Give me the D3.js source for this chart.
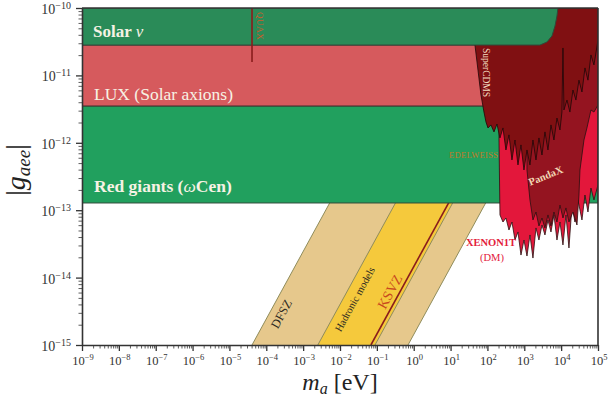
<!DOCTYPE html>
<html><head><meta charset="utf-8">
<script src="https://cdn.jsdelivr.net/npm/d3@7"></script>
<style>
body{margin:0;background:#fff}
svg{display:block}
text{font-family:"Liberation Serif","Times New Roman",serif}
</style>
</head><body>
<svg id="c" width="608" height="400"></svg>
<script>
// ---------- data ----------
const xTickExps = [-9,-8,-7,-6,-5,-4,-3,-2,-1,0,1,2,3,4,5];
const yTickExps = [-15,-14,-13,-12,-11,-10];
const massDomain = [1e-9, 1e5];
const couplingDomain = [1e-15, 1e-10];

// horizontal bounds (|g_aee|)
const solarNuBound = 2.82e-11;
const luxBound = 3.52e-12;
const redGiantBound = 1.28e-13;
// Solar nu bound weakening at high mass [m (eV), g]
const solarNuEdge = [[8200,1e-10],[7700,7.6e-11],[6800,5.4e-11],[5640,3.85e-11],[4120,3.13e-11],[2663,2.82e-11]];
// QUAX
const quaxMass = 4.1e-5;
const quaxRange = [1.58e-11, 1e-10];

// model band edges [m, g]
const dfszLow     = [[4.1e-5,1e-15],[4.1e-2,1e-12]];
const hadronicLow = [[2.5e-3,1e-15],[2.5,1e-12]];
const ksvzLine    = [[0.069,1e-15],[69,1e-12]];
const hadronicHigh= [[0.089,1e-15],[89,1e-12]];
const modelHigh   = [[0.70,1e-15],[700,1e-12]];

// direct detection exclusion regions [m (eV), g]
const superCDMS = [[38.1,1e-10],[45.9,2.82e-11],[55.4,1.2e-11],[66.8,5.12e-12],[80.5,2.86e-12],[91.2,2.04e-12],
 [103.5,1.66e-12],[124.7,1.84e-12],[150.6,1.45e-12],[181.6,1.9e-12],[218.8,1.18e-12],[264,1.66e-12],[318,7.82e-13],
 [384,1.31e-12],[463,5.56e-13],[559,1.1e-12],[674,4.69e-13],[813,9.3e-13],[980,3.95e-13],[1183,7.82e-13],
 [1426,4.69e-13],[1719,1.1e-12],[2075,5.56e-13],[2500,1.18e-12],[3020,6.59e-13],[3640,1.45e-12],[4390,7.82e-13],
 [5300,1.84e-12],[6380,1.1e-12],[7700,2.33e-12],[9290,1.55e-12],[1.05e4,2.86e-12],[1.12e4,2.55e-11],[1.19e4,3.07e-12],
 [1.44e4,4.31e-12],[1.73e4,2.86e-12],[2.09e4,6.07e-12],[2.52e4,4.31e-12],[3.04e4,8.5e-12],[3.67e4,5.67e-12],
 [4.43e4,1.29e-11],[5.34e4,8.5e-12],[6.44e4,2.01e-11],[7.77e4,1.43e-11],[1e5,3.35e-11],[1e5,1e-10]];

const pandaX = [[674,1e-10],[1e5,1e-10],[1e5,3.64e-12],[7.77e4,2.86e-12],[6.44e4,3.07e-12],[5.01e4,1.66e-12],
 [4.16e4,1.1e-12],[3.67e4,6.59e-13],[3.24e4,3.95e-13],[3.04e4,1.68e-13],[2.69e4,6.03e-14],[2.09e4,9.4e-14],
 [1.63e4,6.68e-14],[1.35e4,1.08e-13],[1.12e4,7.66e-14],[9290,1.19e-13],[7700,6.68e-14],[6380,9.4e-14],
 [5300,5.83e-14],[4390,8.5e-14],[3640,5.45e-14],[3020,7.66e-14],[2500,5.83e-14],[2075,9.4e-14],[1719,7.16e-14],
 [1426,1.42e-13],[1183,3.95e-13],[1183,1.1e-12],[980,1.55e-12],[813,2.04e-12]];

const xenon1T = [[206,1e-10],[1e5,1e-10],[1e5,2.37e-13],[7.77e4,1.42e-13],[6.44e4,2.13e-13],[5.34e4,9.4e-14],
 [4.43e4,1.68e-13],[3.67e4,7.16e-14],[2.86e4,1.42e-13],[2.37e4,6.68e-14],[1.97e4,1.19e-13],[1.63e4,2.75e-14],
 [1.35e4,8.5e-14],[1.12e4,3.05e-14],[9290,6.68e-14],[7700,3.61e-14],[6380,8.5e-14],[5300,4.75e-14],[4390,7.16e-14],
 [3640,4.29e-14],[3020,6.03e-14],[2500,3.61e-14],[2075,5.45e-14],[1719,1.95e-14],[1426,4.29e-14],[1183,2.09e-14],
 [980,3.61e-14],[813,2.16e-14],[674,4.75e-14],[559,3.61e-14],[463,6.68e-14],[384,5.08e-14],[318,7.66e-14],
 [264,6.68e-14],[219,8.5e-14],[206,1.1e-12]];

// ---------- chart ----------
const svg = d3.select("#c");
const x = d3.scaleLog().domain(massDomain).range([82,598]);
const y = d3.scaleLog().domain(couplingDomain).range([345,8]);
const line = d3.line().x(d=>x(d[0])).y(d=>y(d[1]));
const poly = pts => line(pts) + "Z";

svg.append("defs").append("clipPath").attr("id","plot")
  .append("rect").attr("x",x(massDomain[0])).attr("y",y(couplingDomain[1]))
  .attr("width",x(massDomain[1])-x(massDomain[0])).attr("height",y(couplingDomain[0])-y(couplingDomain[1]));

const g = svg.append("g").attr("clip-path","url(#plot)");

// model bands
g.append("path").attr("d",poly([dfszLow[0],modelHigh[0],modelHigh[1],dfszLow[1]])).attr("fill","#e6c88c");
g.append("path").attr("d",poly([hadronicLow[0],hadronicHigh[0],hadronicHigh[1],hadronicLow[1]])).attr("fill","#f5c93c");
[dfszLow,hadronicLow,hadronicHigh,modelHigh].forEach(e=>{
  g.append("path").attr("d",line(e)).attr("stroke","#8f8c5c").attr("stroke-width",1).attr("fill","none");
});
g.append("path").attr("d",line(ksvzLine)).attr("stroke","#8a1c1c").attr("stroke-width",1.6).attr("fill","none");

// horizontal astrophysical bounds
const xl = x(massDomain[0]), xr = x(massDomain[1]);
g.append("rect").attr("x",xl).attr("width",xr-xl).attr("y",y(luxBound)).attr("height",y(redGiantBound)-y(luxBound))
  .attr("fill","#21a05e").attr("stroke","#2f4a3a").attr("stroke-width",1);
g.append("rect").attr("x",xl).attr("width",xr-xl).attr("y",y(solarNuBound)).attr("height",y(luxBound)-y(solarNuBound))
  .attr("fill","#d65a5d").attr("stroke","#4a3030").attr("stroke-width",1);

// direct detection
g.append("path").attr("d",poly(xenon1T)).attr("fill","#e3173b").attr("stroke","#2a1010").attr("stroke-width",0.8);
g.append("path").attr("d",poly(pandaX)).attr("fill","#941420").attr("stroke","#2a1010").attr("stroke-width",0.8);
g.append("path").attr("d",poly(superCDMS)).attr("fill","#801012").attr("stroke","#1e0808").attr("stroke-width",0.8);

// solar nu
g.append("path").attr("d",poly([[massDomain[0],couplingDomain[1]],...solarNuEdge,[massDomain[0],solarNuBound]]))
  .attr("fill","#2a8b58").attr("stroke","#2f4a3a").attr("stroke-width",1);

// QUAX
g.append("line").attr("x1",x(quaxMass)).attr("x2",x(quaxMass)).attr("y1",y(quaxRange[0])).attr("y2",y(quaxRange[1]))
  .attr("stroke","#8a1c1c").attr("stroke-width",1.6);

// ---------- labels ----------
const lab = svg.append("g").attr("fill","#f6f2e4");
let t = lab.append("text").attr("x",93).attr("y",37).attr("font-size",17);
t.append("tspan").attr("font-weight","bold").text("Solar ");
t.append("tspan").attr("font-style","italic").text("ν");
lab.append("text").attr("x",94).attr("y",100).attr("font-size",17.5).text("LUX (Solar axions)");
t = lab.append("text").attr("x",94).attr("y",192).attr("font-size",17.5).attr("font-weight","bold");
t.append("tspan").text("Red giants (");
t.append("tspan").attr("font-style","italic").attr("font-weight","normal").text("ω");
t.append("tspan").text("Cen)");

svg.append("text").attr("transform","translate(257,12) rotate(90)").attr("font-size",9)
  .attr("fill","#cf5a28").attr("letter-spacing",0.6).text("QUAX");
svg.append("text").attr("x",449).attr("y",158).attr("font-size",8.5).attr("letter-spacing",0.3)
  .attr("fill","#c27a28").text("EDELWEISS");
svg.append("text").attr("transform","translate(483,48) rotate(90)").attr("font-size",9.5)
  .attr("fill","#f3dcc0").text("SuperCDMS");
svg.append("text").attr("transform","translate(547,179) rotate(-22)").attr("text-anchor","middle")
  .attr("font-size",10.5).attr("font-weight","bold").attr("fill","#f1d6b4").text("PandaX");
svg.append("text").attr("x",491).attr("y",246).attr("text-anchor","middle").attr("font-size",10.5)
  .attr("font-weight","bold").attr("fill","#e3203a").text("XENON1T");
svg.append("text").attr("x",492).attr("y",261).attr("text-anchor","middle").attr("font-size",10.5)
  .attr("fill","#e3203a").text("(DM)");

const ang = -Math.atan((y(1e-15)-y(1e-14))/(x(1)-x(0.1)))*180/Math.PI;
svg.append("text").attr("transform",`translate(285,316) rotate(${ang})`).attr("text-anchor","middle")
  .attr("font-size",12.5).attr("fill","#2e2a22").text("DFSZ");
svg.append("text").attr("transform",`translate(358,301) rotate(${ang})`).attr("text-anchor","middle")
  .attr("font-size",10.5).attr("fill","#2e2a22").text("Hadronic models");
svg.append("text").attr("transform",`translate(394,294) rotate(${ang})`).attr("text-anchor","middle")
  .attr("font-size",14).attr("fill","#c8481e").text("KSVZ");

// ---------- axes ----------
const isMajor = d => Math.abs(Math.log10(d)-Math.round(Math.log10(d)))<1e-6;
const minors = (exps) => { const r=[]; exps.slice(0,-1).forEach(e=>{for(let j=2;j<10;j++) r.push(j*Math.pow(10,e));}); return r; };
const xMaj = xTickExps.map(e=>Math.pow(10,e)), yMaj = yTickExps.map(e=>Math.pow(10,e));

const ax = svg.append("g").attr("transform","translate(0,345)")
  .call(d3.axisBottom(x).tickValues(xMaj.concat(minors(xTickExps))).tickFormat("").tickSizeOuter(0));
ax.selectAll(".tick line").attr("y2",d=>isMajor(d)?6:3.5).attr("stroke","#333").attr("stroke-width",d=>isMajor(d)?1.3:0.8);
ax.select(".domain").attr("stroke","#333").attr("stroke-width",1.6);

const ay = svg.append("g").attr("transform","translate(82,0)")
  .call(d3.axisLeft(y).tickValues(yMaj.concat(minors(yTickExps))).tickFormat("").tickSizeOuter(0));
ay.selectAll(".tick line").attr("x2",d=>isMajor(d)?-6:-3.5).attr("stroke","#333").attr("stroke-width",d=>isMajor(d)?1.3:0.8);
ay.select(".domain").attr("stroke","#333").attr("stroke-width",1.6);

// frame top/right
svg.append("line").attr("x1",x(massDomain[0])).attr("x2",x(massDomain[1])).attr("y1",y(couplingDomain[1])).attr("y2",y(couplingDomain[1]))
  .attr("stroke","#333").attr("stroke-width",1.6);
svg.append("line").attr("x1",x(massDomain[1])).attr("x2",x(massDomain[1])).attr("y1",y(couplingDomain[1])).attr("y2",y(couplingDomain[0]))
  .attr("stroke","#333").attr("stroke-width",1.6);

// tick labels
const tickLab = (sel, e, anchor, fs, es) => {
  const tt = sel.append("text").attr("text-anchor",anchor).attr("fill","#333");
  tt.append("tspan").attr("font-size",fs).text("10");
  tt.append("tspan").attr("font-size",es).attr("dy",-5).text((e<0?"−":"")+Math.abs(e));
  return tt;
};
xTickExps.forEach(e=>{ tickLab(svg, e, "middle", 12.5, 8.5).attr("x",x(Math.pow(10,e))+1).attr("y",365); });
yTickExps.forEach(e=>{ tickLab(svg, e, "end", 14, 10).attr("x",71).attr("y",y(Math.pow(10,e))+6); });

// axis titles
let xt = svg.append("text").attr("x",340).attr("y",390).attr("text-anchor","middle").attr("font-size",24).attr("fill","#222");
xt.append("tspan").attr("font-style","italic").text("m");
xt.append("tspan").attr("font-style","italic").attr("font-size",16).attr("dy",4).text("a");
xt.append("tspan").attr("dy",-4).text(" [eV]");

let yt = svg.append("text").attr("transform","translate(25,170) rotate(-90)").attr("text-anchor","middle").attr("font-size",28).attr("fill","#222");
yt.append("tspan").text("|");
yt.append("tspan").attr("font-style","italic").text("g");
yt.append("tspan").attr("font-style","italic").attr("font-size",19).attr("dy",5).text("aee");
yt.append("tspan").attr("dy",-5).text("|");
</script>
</body></html>
